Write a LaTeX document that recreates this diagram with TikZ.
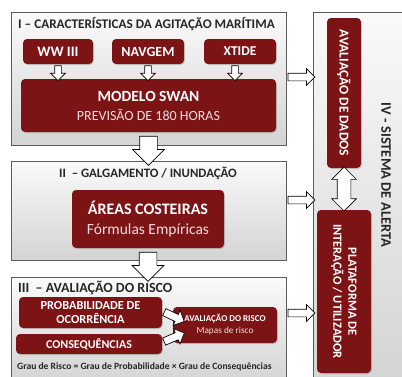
\documentclass[tikz,border=0pt]{standalone}
\usepackage{fontspec}
\setmainfont{Carlito}
\usetikzlibrary{shapes.arrows,positioning,calc,shadows}
\definecolor{saMaroon}{HTML}{7C1416}
\definecolor{saInk}{HTML}{262626}
\definecolor{saFrame}{HTML}{5C5C5C}
\definecolor{saPink}{HTML}{F2DCDB}
\tikzset{
  panel/.style={draw=saFrame, line width=0.8pt, top color=gray!4, bottom color=gray!34, inner sep=0pt},
  box/.style={fill=saMaroon, rounded corners=4pt, text=white, inner sep=1pt, align=center,
    drop shadow={opacity=0.3, shadow xshift=1pt, shadow yshift=-1pt}},
  ttl/.style={text=saInk, inner sep=0pt},
  blk/.style={single arrow, draw=black, fill=white, line width=0.7pt, inner xsep=0pt},
  dwS/.style={blk, inner ysep=3pt, single arrow head extend=4pt, minimum height=15pt, rotate=-90},
  dwB/.style={blk, inner ysep=8.5pt, single arrow head extend=7pt, minimum height=29pt, rotate=-90},
  rgt/.style={blk, inner ysep=3.5pt, single arrow head extend=4.5pt, minimum height=27pt},
}

\begin{document}
\begin{tikzpicture}[x=1pt, y=-1pt]
  \useasboundingbox (0,0) rectangle (402,376);
  \clip (0,0) rectangle (402,376);
  % panels
  \node[panel, minimum width=275pt, minimum height=133pt] (p1) at (148.5,78.5) {};
  \node[panel, minimum width=275pt, minimum height=99pt] (p2) at (148.5,210.5) {};
  \node[panel, minimum width=275pt, minimum height=106pt] (p3) at (148.5,330) {};
  \node[panel, minimum width=98pt, minimum height=372pt] (p4) at (362,198) {};
  \node[ttl, font=\bfseries\fontsize{13.2}{15}\selectfont] (t1) at (146.5,24) {I -- CARACTERÍSTICAS DA AGITAÇÃO MARÍTIMA};
  \node[ttl, font=\bfseries\fontsize{12.8}{15}\selectfont] (t2) at (148,173) {II\ \ -- GALGAMENTO / INUNDAÇÃO};
  \node[ttl, font=\bfseries\fontsize{14}{16}\selectfont, anchor=west] (t3) at (18,288) {III\ \ -- AVALIAÇÃO DO RISCO};
  \node[ttl, font=\bfseries\fontsize{14.5}{16}\selectfont, rotate=-90] (t4) at (386,175) {IV - SISTEMA DE ALERTA};
  % I
  \node[box, font=\bfseries\fontsize{14.5}{16}\selectfont, minimum width=70pt, minimum height=25pt] (ww) at (58,51.5) {WW III};
  \node[box, font=\bfseries\fontsize{14}{16}\selectfont, minimum width=72pt, minimum height=25pt] (nav) at (148,51.5) {NAVGEM};
  \node[box, font=\bfseries\fontsize{13.5}{15}\selectfont, minimum width=72pt, minimum height=25pt] (xt) at (240,51.5) {XTIDE};
  \node[box, font=\bfseries\fontsize{15.5}{18}\selectfont, minimum width=255pt, minimum height=53pt] (swan) at (148.5,105.5)
    {MODELO SWAN\\[1pt]{\mdseries\color{saPink}\fontsize{14}{15}\selectfont PREVISÃO DE 180 HORAS}};
  % II
  \node[box, font=\bfseries\fontsize{16}{19}\selectfont, minimum width=152pt, minimum height=58pt] (cost) at (148,219)
    {ÁREAS COSTEIRAS\\[1pt]{\mdseries\color{saPink}\fontsize{15.5}{16}\selectfont Fórmulas Empíricas}};
  % III
  \node[box, font=\bfseries\fontsize{12.3}{14}\selectfont, minimum width=143pt, minimum height=31pt] (prob) at (90.5,312.5)
    {PROBABILIDADE DE\\OCORRÊNCIA};
  \node[box, font=\bfseries\fontsize{12}{14}\selectfont, minimum width=146pt, minimum height=20pt] (cons) at (89,344) {CONSEQUÊNCIAS};
  \node[box, font=\bfseries\fontsize{9}{11}\selectfont, minimum width=104pt, minimum height=36pt] (risco) at (225,325)
    {AVALIAÇÃO DO RISCO\\[1pt]{\mdseries\color{saPink}\fontsize{9.3}{10}\selectfont Mapas de risco}};
  \node[ttl, font=\bfseries\fontsize{9.6}{11}\selectfont, anchor=west] (grau) at (17,367)
    {Grau de Risco = Grau de Probabilidade × Grau de Consequências};
  % IV
  \node[box, font=\bfseries\fontsize{13.5}{15}\selectfont, minimum width=150pt, minimum height=34pt, rotate=-90] (dados) at (344,93)
    {AVALIAÇÃO DE DADOS};
  \node[box, font=\bfseries\fontsize{12.5}{15}\selectfont, minimum width=163pt, minimum height=54pt, rotate=-90] (plat) at (344,291.5)
    {PLATAFORMA DE\\INTERAÇÃO / UTILIZADOR};
  % arrows
  \foreach \n/\dx in {ww/0,nav/0,xt/-5}
    \node[dwS] (a-\n) at ($(\n.south)!.5!(\n.south|-swan.north)+(\dx,0)$) {};
  \node[dwB] (b1) at ($(swan.south)!.5!(swan.south|-p2.north)$) {};
  \node[dwB] (b2) at ($(cost.south)!.5!(cost.south|-p3.north)$) {};
  \foreach \y [count=\i] in {77,200,313}
    \node[rgt] (h\i) at ($(p1.east|-0,\y)!.5!(p4.west|-0,\y)$) {};
  \node[blk, inner ysep=3.5pt, single arrow head extend=4.5pt, minimum height=22pt, rotate=-25] (s1) at (172.5,316) {};
  \node[blk, inner ysep=3.5pt, single arrow head extend=4.5pt, minimum height=22pt, rotate=23] (s2) at (172.5,338) {};
  \node[double arrow, draw=black, fill=white, line width=0.7pt, inner xsep=0pt, inner ysep=6.5pt,
    double arrow head extend=5.5pt, minimum height=44pt, rotate=90] (dd) at ($(dados.east)!.5!(plat.west)$) {};
\end{tikzpicture}
\end{document}
